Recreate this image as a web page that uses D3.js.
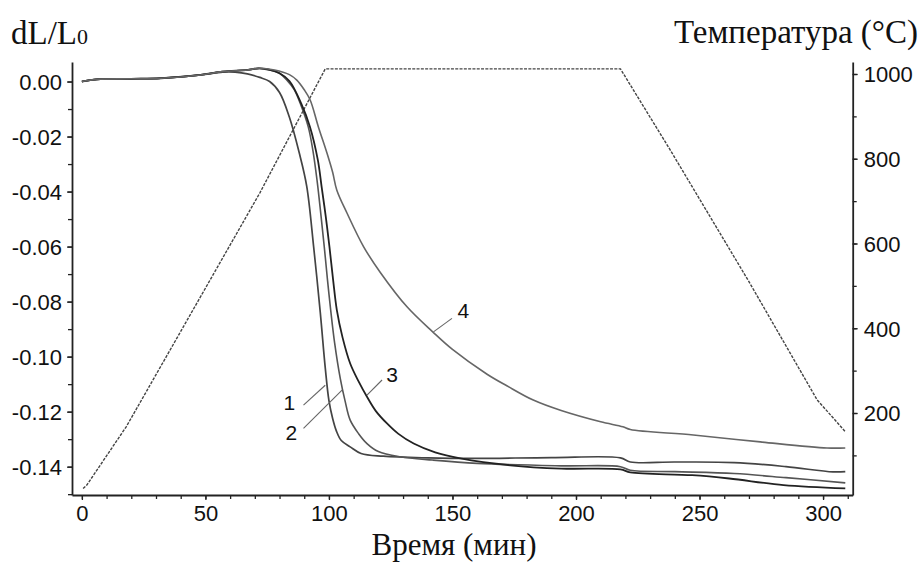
<!DOCTYPE html>
<html><head><meta charset="utf-8">
<script src="https://cdn.jsdelivr.net/npm/d3@7"></script>
<style>
html,body{margin:0;padding:0;background:#fff;}
svg{display:block;}
.tick text{font-family:"Liberation Sans",Arial,sans-serif;font-size:22px;fill:#111;}
.title{font-family:"Liberation Serif","Times New Roman",serif;fill:#111;}
</style></head><body>
<svg id="c" width="922" height="562"></svg>
<script>
// ---- data ----
const curve1T = [0,6,20,32,48,57,62,67,72,76,80,84,88,91,93.8,96.5,98.5,100,101.5,103,105,108.6,113,122,140,160,190,218,222,240,264,285,304,309];
const curve1V = [0,0.0008,0.001,0.0012,0.0024,0.0034,0.0034,0.0028,0.0015,0.0,-0.004,-0.013,-0.026,-0.038,-0.060,-0.084,-0.104,-0.116,-0.1225,-0.127,-0.1305,-0.1328,-0.1352,-0.1362,-0.1368,-0.137,-0.1367,-0.1368,-0.1383,-0.1383,-0.1385,-0.140,-0.1419,-0.1418];

const curve2T = [0,6,20,32,48,57,67,71.5,75,80,83,86,88.4,91.6,93.5,95.2,96.7,98.1,99.4,100.7,102.3,104.6,106.5,108.6,112,115.4,120,128.9,142,160,194,218,222,240,264,285,309];
const curve2V = [0,0.0008,0.001,0.0012,0.0024,0.0036,0.0042,0.0048,0.0045,0.003,0.0005,-0.003,-0.008,-0.0164,-0.025,-0.036,-0.048,-0.060,-0.072,-0.083,-0.095,-0.108,-0.116,-0.1231,-0.128,-0.1316,-0.1345,-0.1364,-0.1376,-0.1388,-0.1397,-0.1400,-0.1413,-0.1418,-0.1425,-0.144,-0.1459];

const curve3T = [0,6,20,32,48,57,67,71.5,76,80,84,88.8,92.3,95.5,97,98.7,100.2,101.7,103.2,105.5,108.6,112,115.4,119,123.5,128,134.3,143,153.2,173.4,194,218,222,247,262,284,309];
const curve3V = [0,0.0008,0.001,0.0012,0.0024,0.0036,0.0042,0.0048,0.0042,0.003,0.0002,-0.008,-0.0164,-0.0285,-0.038,-0.049,-0.060,-0.0722,-0.0831,-0.093,-0.1025,-0.109,-0.1146,-0.1198,-0.1243,-0.128,-0.1316,-0.1348,-0.137,-0.1395,-0.1407,-0.1410,-0.1421,-0.1431,-0.1443,-0.1467,-0.1479];

const curve4T = [0,6,20,32,48,57,67,71.5,78,84,87,90,92.4,95.7,99.2,101.5,103.2,107.3,114,120.8,131.6,142,150,164,172,182.7,194,210,219,222,247.5,274.6,301.6,309];
const curve4V = [0,0.0008,0.001,0.0012,0.0024,0.0036,0.0042,0.0048,0.0042,0.0025,0.0005,-0.003,-0.0067,-0.0164,-0.026,-0.033,-0.0395,-0.0478,-0.060,-0.0694,-0.0819,-0.091,-0.0974,-0.1064,-0.1106,-0.1158,-0.1196,-0.1237,-0.1255,-0.1265,-0.1285,-0.131,-0.1332,-0.1332];

const tempT = [0.5,2,18,72,98.5,218,238,270,297.6,309];
const tempC = [22,30,168,719,1012,1012,822,510,231,156];

const xTicks = [0,50,100,150,200,250,300];
const yLeftTicks = [0,-0.02,-0.04,-0.06,-0.08,-0.10,-0.12,-0.14];
const yRightTicks = [200,400,600,800,1000];

const curveLabels = ["1","2","3","4"];
const labelT = [84.0,84.8,125.6,154.4];
const labelV = [-0.1193,-0.1304,-0.1092,-0.0860];
const leaderT0 = [89.7,89.7,115.4,142.3];
const leaderV0 = [-0.1176,-0.1261,-0.1140,-0.0910];
const leaderT1 = [98.5,105.3,121.5,149.8];
const leaderV1 = [-0.1104,-0.1122,-0.1085,-0.0861];

// ---- chart ----
const svg = d3.select("#c");
const L = 72, R = 852.7, T = 62, B = 495;
const x = d3.scaleLinear().domain([-4,312]).range([L,R]);
const y = d3.scaleLinear().domain([-0.1503,0.0071]).range([B,T]);
const y2 = d3.scaleLinear().domain([6.5,1028.3]).range([B,T]);

const fmt = d => d===0 ? "0.00" : d3.format(".2f")(d).replace("−","-");

// minor ticks
svg.append("g").attr("transform",`translate(${L},0)`)
  .call(d3.axisLeft(y).tickValues(d3.range(-0.15,0.0051,0.01)).tickSize(4).tickFormat(""))
  .call(g=>g.select(".domain").remove());
svg.append("g").attr("transform",`translate(0,${B})`)
  .call(d3.axisBottom(x).tickValues(d3.range(0,311,10)).tickSize(4).tickFormat(""))
  .call(g=>g.select(".domain").remove());
svg.append("g").attr("transform",`translate(${R},0)`)
  .call(d3.axisRight(y2).tickValues(d3.range(100,1001,100)).tickSize(4).tickFormat(""))
  .call(g=>g.select(".domain").remove());

// major axes
const gl = svg.append("g").attr("transform",`translate(${L},0)`)
  .call(d3.axisLeft(y).tickValues(yLeftTicks).tickSize(5).tickPadding(5).tickFormat(fmt).tickSizeOuter(0));
const gb = svg.append("g").attr("transform",`translate(0,${B})`)
  .call(d3.axisBottom(x).tickValues(xTicks).tickSize(5).tickPadding(5).tickFormat(d3.format("d")).tickSizeOuter(0));
const gr = svg.append("g").attr("transform",`translate(${R},0)`)
  .call(d3.axisRight(y2).tickValues(yRightTicks).tickSize(5).tickPadding(6).tickFormat(d3.format("d")).tickSizeOuter(0));
svg.selectAll(".domain").attr("stroke","#222").attr("stroke-width",1.8);
svg.selectAll(".tick line").attr("stroke","#222").attr("stroke-width",1.3);
svg.selectAll(".tick text").attr("fill","#111");
gl.selectAll(".tick text").attr("dy","0.36em");
gr.selectAll(".tick text").attr("dy","0.36em");

// temperature line
const tline = d3.line().x((d,i)=>x(tempT[i])).y((d,i)=>y2(tempC[i]));
svg.append("path").attr("d",tline(tempT)).attr("fill","none")
  .attr("stroke","#444").attr("stroke-width",1.4).attr("stroke-dasharray","3,1.3");

// dilatometric curves
const series = [
  {t:curve1T,v:curve1V,c:"#444",w:1.7},
  {t:curve2T,v:curve2V,c:"#555",w:1.6},
  {t:curve3T,v:curve3V,c:"#222",w:1.8},
  {t:curve4T,v:curve4V,c:"#666",w:1.6}
];
series.forEach(s=>{
  const line = d3.line().curve(d3.curveCatmullRom.alpha(0.5)).x((d,i)=>x(s.t[i])).y((d,i)=>y(s.v[i]));
  svg.append("path").attr("d",line(s.t)).attr("fill","none")
    .attr("stroke",s.c).attr("stroke-width",s.w).attr("stroke-linejoin","round");
});

// labels
curveLabels.forEach((lab,i)=>{
  svg.append("line").attr("x1",x(leaderT0[i])).attr("y1",y(leaderV0[i]))
    .attr("x2",x(leaderT1[i])).attr("y2",y(leaderV1[i]))
    .attr("stroke","#666").attr("stroke-width",1.1);
  svg.append("text").attr("x",x(labelT[i])).attr("y",y(labelV[i]))
    .attr("text-anchor","middle")
    .style("font-family","'Liberation Sans',Arial,sans-serif").style("font-size","21px")
    .attr("fill","#111").text(lab);
});

// titles
const t1 = svg.append("text").attr("class","title").attr("x",11).attr("y",44).style("font-size","33px");
t1.append("tspan").text("dL/L");
t1.append("tspan").style("font-size","22px").text("0");
svg.append("text").attr("class","title").attr("x",918).attr("y",43).attr("text-anchor","end")
  .style("font-size","33px").text("Температура (°C)");
svg.append("text").attr("class","title").attr("x",454).attr("y",555).attr("text-anchor","middle")
  .style("font-size","31px").text("Время (мин)");
</script>
</body></html>
